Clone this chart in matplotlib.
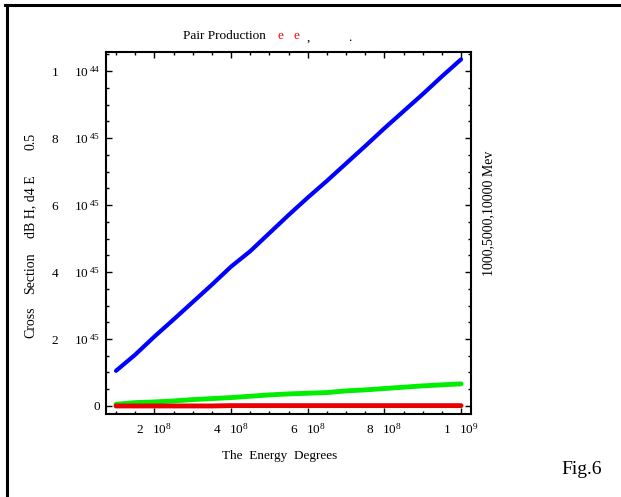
import numpy as np
import matplotlib
matplotlib.use("Agg")
import matplotlib.pyplot as plt
from matplotlib.lines import Line2D
from matplotlib.ticker import FixedLocator, FixedFormatter

plt.rcParams['font.family'] = ['Liberation Serif', 'DejaVu Serif']
plt.rcParams['mathtext.fontset'] = 'custom'
plt.rcParams['mathtext.rm'] = 'Liberation Serif'
plt.rcParams['mathtext.it'] = 'Liberation Serif:italic'

# Datos (energia en unidades de 1e8, seccion en 1e45)
energy = np.array([1.0, 1.5, 2.0, 2.5, 3.0, 3.5, 4.0, 4.5, 5.0, 5.5,
                   6.0, 6.5, 7.0, 7.5, 8.0, 8.5, 9.0, 9.5, 10.0]) * 1e8
sigma_10000 = np.array([1.05, 1.53, 2.07, 2.58, 3.10, 3.62, 4.16, 4.62, 5.16, 5.70,
                        6.22, 6.72, 7.24, 7.76, 8.29, 8.80, 9.31, 9.84, 10.35]) * 1e45
sigma_5000 = np.array([0.05, 0.10, 0.12, 0.15, 0.19, 0.22, 0.25, 0.29, 0.33, 0.36,
                       0.38, 0.40, 0.45, 0.48, 0.52, 0.56, 0.60, 0.63, 0.66]) * 1e45
sigma_1000 = np.array([0.00, 0.00, 0.00, 0.00, 0.00, 0.00, 0.01, 0.01, 0.01, 0.01,
                       0.01, 0.01, 0.01, 0.01, 0.01, 0.01, 0.01, 0.01, 0.01]) * 1e45

xtick_pos = [2e8, 4e8, 6e8, 8e8, 1e9]
xtick_labels = [("2", "8"), ("4", "8"), ("6", "8"), ("8", "8"), ("1", "9")]
ytick_pos = [0, 2e45, 4e45, 6e45, 8e45, 1e46]
ytick_labels = [("0", None), ("2", "45"), ("4", "45"), ("6", "45"), ("8", "45"), ("1", "44")]


def fmt_x(lbl):
    mant, exp = lbl
    return r"$\mathregular{%s\quad 10^{%s}}$" % (mant, exp)


def fmt_y(lbl):
    mant, exp = lbl
    if exp is None:
        return mant
    return r"$\mathregular{%s\quad\;\;\, 10^{\;%s}}$" % (mant, exp)


fig = plt.figure(figsize=(6.21, 4.97), dpi=100)
ax = fig.add_axes([106 / 621, 1 - 414 / 497, 365 / 621, 362 / 497])

ax.plot(energy, sigma_10000, color='#0000ff', lw=3.0, solid_capstyle='round')
ax.plot(energy, sigma_5000, color='#00ee00', lw=3.5, solid_capstyle='round')
ax.plot(energy, sigma_1000, color='#e80000', lw=3.5, solid_capstyle='round')

ax.set_xlim(0.739e8, 10.26e8)
ax.set_ylim(-0.24e45, 10.57e45)

ax.xaxis.set_major_locator(FixedLocator(xtick_pos))
ax.xaxis.set_major_formatter(FixedFormatter([fmt_x(l) for l in xtick_labels]))
ax.xaxis.set_minor_locator(FixedLocator(np.arange(1, 10.01, 0.5) * 1e8))
ax.yaxis.set_major_locator(FixedLocator(ytick_pos))
ax.yaxis.set_major_formatter(FixedFormatter([fmt_y(l) for l in ytick_labels]))
ax.yaxis.set_minor_locator(FixedLocator(np.arange(0, 10.51, 0.5) * 1e45))

ax.tick_params(which='both', direction='in', top=True, right=True, width=1.0, labelsize=9.5)
ax.tick_params(which='major', length=4)
ax.tick_params(which='minor', length=2)
ax.tick_params(axis='x', which='major', pad=6)
ax.tick_params(axis='y', which='major', pad=4)
for s in ax.spines.values():
    s.set_linewidth(1.5)

# Titulo con las letras rojas
fig.text(183 / 621, 1 - 36 / 497, "Pair Production", fontsize=9.5, va='center', ha='left')
fig.text(280 / 621, 1 - 36 / 497, "e", fontsize=9.5, va='center', ha='center', color='red')
fig.text(296 / 621, 1 - 36 / 497, "e", fontsize=9.5, va='center', ha='center', color='red')
fig.text(308 / 621, 1 - 38 / 497, ",", fontsize=9.5, va='center', ha='center')
fig.text(350 / 621, 1 - 38 / 497, ".", fontsize=9.5, va='center', ha='center')

fig.text(280 / 621, 1 - 456 / 497, "The  Energy  Degrees", fontsize=9.5, ha='center', va='center')

# Etiqueta del eje y, por partes como en el original
for txt, yc in [("Cross", 322), ("Section", 273), ("dB H, d4 E", 207), ("0.5", 141)]:
    fig.text(31 / 621, 1 - yc / 497, txt, fontsize=10, rotation=90, ha='center', va='center')

fig.text(489 / 621, 1 - 213 / 497, "1000,5000,10000 Mev", fontsize=10,
         rotation=90, ha='center', va='center')
fig.text(582 / 621, 1 - 469 / 497, "Fig.6", fontsize=14, ha='center', va='center')

# Marco exterior
fig.add_artist(Line2D([5 / 621, 1], [1 - 5 / 497, 1 - 5 / 497], color='black', lw=2.2,
                      transform=fig.transFigure))
fig.add_artist(Line2D([6.5 / 621, 6.5 / 621], [0, 1 - 5 / 497], color='black', lw=2.2,
                      transform=fig.transFigure))

fig.savefig("out.png", dpi=100)
